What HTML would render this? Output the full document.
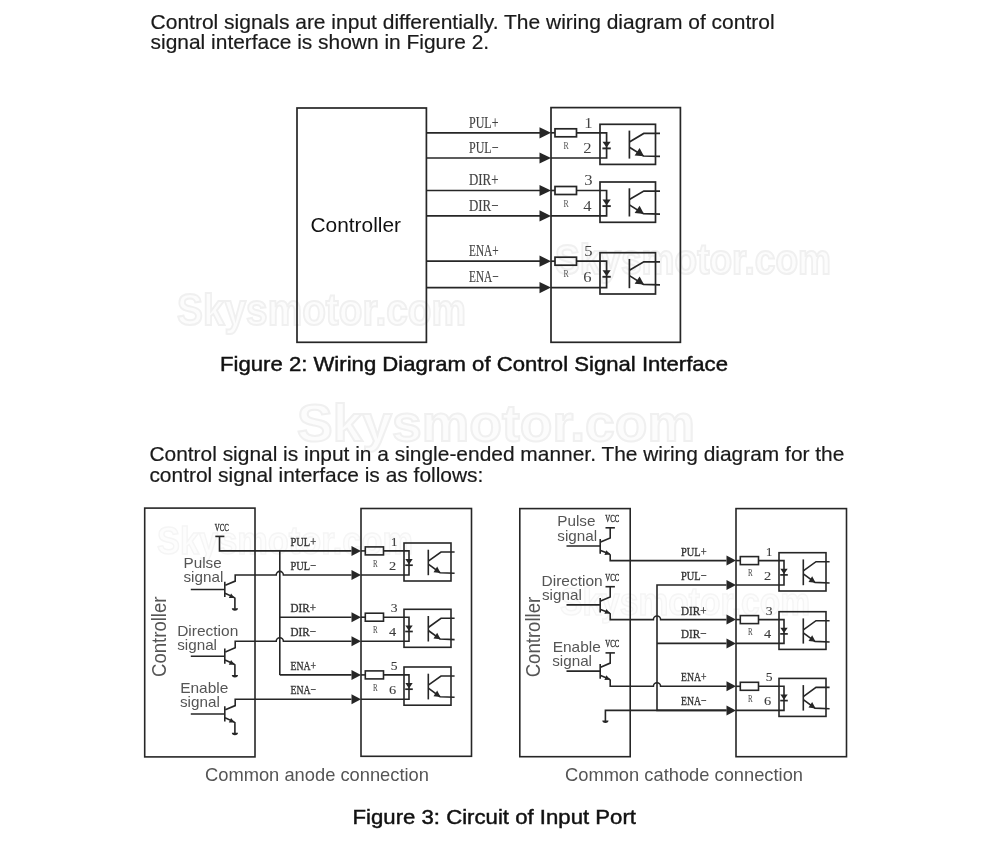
<!DOCTYPE html>
<html><head><meta charset="utf-8"><style>
html,body{margin:0;padding:0;background:#fff;}
svg{display:block;will-change:transform;}
</style></head><body>
<svg width="990" height="860" viewBox="0 0 990 860">
<rect x="0" y="0" width="990" height="860" fill="#fff"/>
<text x="297" y="441" font-size="52" textLength="398" lengthAdjust="spacingAndGlyphs" font-family="Liberation Sans" font-weight="bold" fill="#fcfcfc" stroke="#f0f0f0" stroke-width="2">Skysmotor.com</text>
<text x="177" y="324.5" font-size="44" textLength="289" lengthAdjust="spacingAndGlyphs" font-family="Liberation Sans" font-weight="bold" fill="#fcfcfc" stroke="#f0f0f0" stroke-width="2">Skysmotor.com</text>
<text x="555" y="274" font-size="42" textLength="276" lengthAdjust="spacingAndGlyphs" font-family="Liberation Sans" font-weight="bold" fill="#fcfcfc" stroke="#f0f0f0" stroke-width="2">Skysmotor.com</text>
<text x="157" y="554" font-size="38" textLength="256" lengthAdjust="spacingAndGlyphs" font-family="Liberation Sans" font-weight="bold" fill="#fdfdfd" stroke="#f5f5f5" stroke-width="1.5">Skysmotor.com</text>
<text x="560" y="615" font-size="38" textLength="250" lengthAdjust="spacingAndGlyphs" font-family="Liberation Sans" font-weight="bold" fill="#fdfdfd" stroke="#f5f5f5" stroke-width="1.5">Skysmotor.com</text>
<text x="150.6" y="28.7" font-family="Liberation Sans" font-size="21" fill="#1a1a1a" font-weight="normal" textLength="624.0" lengthAdjust="spacingAndGlyphs" stroke="#1a1a1a" stroke-width="0.2">Control signals are input differentially. The wiring diagram of control</text>
<text x="150.6" y="48.6" font-family="Liberation Sans" font-size="21" fill="#1a1a1a" font-weight="normal" textLength="338.5" lengthAdjust="spacingAndGlyphs" stroke="#1a1a1a" stroke-width="0.2">signal interface is shown in Figure 2.</text>
<text x="149.4" y="460.9" font-family="Liberation Sans" font-size="21" fill="#1a1a1a" font-weight="normal" textLength="695.0" lengthAdjust="spacingAndGlyphs" stroke="#1a1a1a" stroke-width="0.2">Control signal is input in a single-ended manner. The wiring diagram for the</text>
<text x="149.4" y="481.7" font-family="Liberation Sans" font-size="21" fill="#1a1a1a" font-weight="normal" textLength="334.0" lengthAdjust="spacingAndGlyphs" stroke="#1a1a1a" stroke-width="0.2">control signal interface is as follows:</text>
<text x="220.0" y="371.2" font-family="Liberation Sans" font-size="21" fill="#111" font-weight="normal" textLength="508.0" lengthAdjust="spacingAndGlyphs" stroke="#111" stroke-width="0.45">Figure 2: Wiring Diagram of Control Signal Interface</text>
<text x="352.5" y="824.0" font-family="Liberation Sans" font-size="21" fill="#111" font-weight="normal" textLength="283.5" lengthAdjust="spacingAndGlyphs" stroke="#111" stroke-width="0.45">Figure 3: Circuit of Input Port</text>
<text x="205.0" y="780.8" font-family="Liberation Sans" font-size="18.4" fill="#555" font-weight="normal" textLength="224.0" lengthAdjust="spacingAndGlyphs" >Common anode connection</text>
<text x="565.0" y="780.7" font-family="Liberation Sans" font-size="18.4" fill="#555" font-weight="normal" textLength="238.0" lengthAdjust="spacingAndGlyphs" >Common cathode connection</text>
<rect x="297.0" y="108.0" width="129.4" height="234.3" stroke="#262626" stroke-width="1.7" fill="none"/>
<rect x="551.0" y="107.6" width="129.4" height="234.7" stroke="#262626" stroke-width="1.7" fill="none"/>
<text x="310.5" y="231.8" font-family="Liberation Sans" font-size="20.5" fill="#111" font-weight="normal" textLength="90.5" lengthAdjust="spacingAndGlyphs" >Controller</text>
<line x1="426.4" y1="132.8" x2="541.0" y2="132.8" stroke="#262626" stroke-width="1.7"/>
<path d="M551.0,132.8 L539.5,127.2 L539.5,138.4 Z" fill="#262626"/>
<line x1="426.4" y1="158.0" x2="541.0" y2="158.0" stroke="#262626" stroke-width="1.7"/>
<path d="M551.0,158.0 L539.5,152.4 L539.5,163.6 Z" fill="#262626"/>
<text x="469.0" y="127.6" font-family="Liberation Serif" font-size="16.5" fill="#444" font-weight="normal" textLength="29.5" lengthAdjust="spacingAndGlyphs" stroke="#444" stroke-width="0.15">PUL+</text>
<text x="469.0" y="152.6" font-family="Liberation Serif" font-size="16.5" fill="#444" font-weight="normal" textLength="29.5" lengthAdjust="spacingAndGlyphs" stroke="#444" stroke-width="0.15">PUL&#8722;</text>
<rect x="555.0" y="128.8" width="21.5" height="8.0" stroke="#262626" stroke-width="1.7" fill="none"/>
<line x1="551.0" y1="132.8" x2="555.0" y2="132.8" stroke="#262626" stroke-width="1.7"/>
<path d="M576.5,132.8 L606.6,132.8 L606.6,158.0 L551,158.0" stroke="#262626" stroke-width="1.7" fill="none" />
<rect x="600.0" y="124.3" width="55.5" height="40.1" stroke="#262626" stroke-width="1.7" fill="none"/>
<path d="M602.5,141.8 L610.7,141.8 L606.6,147.6 Z" fill="#262626"/>
<line x1="602.4" y1="148.4" x2="610.8" y2="148.4" stroke="#262626" stroke-width="1.9"/>
<line x1="629.4" y1="130.6" x2="629.4" y2="158.6" stroke="#262626" stroke-width="1.7"/>
<path d="M629.4,141.9 L643.8,133.4 L660,133.4" stroke="#262626" stroke-width="1.7" fill="none" />
<path d="M629.4,147.2 L643.4,156.0 L660,156.4" stroke="#262626" stroke-width="1.7" fill="none" />
<path d="M644,156.2 L634.6,155.4 L639.6,148.0 Z" fill="#262626"/>
<text x="584.3" y="127.6" font-family="Liberation Serif" font-size="15.5" fill="#444" font-weight="normal" textLength="8.3" lengthAdjust="spacingAndGlyphs"  >1</text>
<text x="583.3" y="152.6" font-family="Liberation Serif" font-size="15.5" fill="#444" font-weight="normal" textLength="8.3" lengthAdjust="spacingAndGlyphs"  >2</text>
<text x="563.6" y="149.0" font-family="Liberation Serif" font-size="10" fill="#555" font-weight="normal" textLength="5.2" lengthAdjust="spacingAndGlyphs"  >R</text>
<line x1="426.4" y1="190.5" x2="541.0" y2="190.5" stroke="#262626" stroke-width="1.7"/>
<path d="M551.0,190.5 L539.5,184.9 L539.5,196.1 Z" fill="#262626"/>
<line x1="426.4" y1="215.9" x2="541.0" y2="215.9" stroke="#262626" stroke-width="1.7"/>
<path d="M551.0,215.9 L539.5,210.3 L539.5,221.5 Z" fill="#262626"/>
<text x="469.0" y="185.3" font-family="Liberation Serif" font-size="16.5" fill="#444" font-weight="normal" textLength="29.5" lengthAdjust="spacingAndGlyphs" stroke="#444" stroke-width="0.15">DIR+</text>
<text x="469.0" y="210.5" font-family="Liberation Serif" font-size="16.5" fill="#444" font-weight="normal" textLength="29.5" lengthAdjust="spacingAndGlyphs" stroke="#444" stroke-width="0.15">DIR&#8722;</text>
<rect x="555.0" y="186.5" width="21.5" height="8.0" stroke="#262626" stroke-width="1.7" fill="none"/>
<line x1="551.0" y1="190.5" x2="555.0" y2="190.5" stroke="#262626" stroke-width="1.7"/>
<path d="M576.5,190.5 L606.6,190.5 L606.6,215.9 L551,215.9" stroke="#262626" stroke-width="1.7" fill="none" />
<rect x="600.0" y="182.0" width="55.5" height="40.3" stroke="#262626" stroke-width="1.7" fill="none"/>
<path d="M602.5,199.5 L610.7,199.5 L606.6,205.3 Z" fill="#262626"/>
<line x1="602.4" y1="206.1" x2="610.8" y2="206.1" stroke="#262626" stroke-width="1.9"/>
<line x1="629.4" y1="188.3" x2="629.4" y2="216.5" stroke="#262626" stroke-width="1.7"/>
<path d="M629.4,199.6 L643.8,191.1 L660,191.1" stroke="#262626" stroke-width="1.7" fill="none" />
<path d="M629.4,204.9 L643.4,213.7 L660,214.1" stroke="#262626" stroke-width="1.7" fill="none" />
<path d="M644,213.9 L634.6,213.1 L639.6,205.7 Z" fill="#262626"/>
<text x="584.3" y="185.3" font-family="Liberation Serif" font-size="15.5" fill="#444" font-weight="normal" textLength="8.3" lengthAdjust="spacingAndGlyphs"  >3</text>
<text x="583.3" y="210.5" font-family="Liberation Serif" font-size="15.5" fill="#444" font-weight="normal" textLength="8.3" lengthAdjust="spacingAndGlyphs"  >4</text>
<text x="563.6" y="206.7" font-family="Liberation Serif" font-size="10" fill="#555" font-weight="normal" textLength="5.2" lengthAdjust="spacingAndGlyphs"  >R</text>
<line x1="426.4" y1="261.2" x2="541.0" y2="261.2" stroke="#262626" stroke-width="1.7"/>
<path d="M551.0,261.2 L539.5,255.6 L539.5,266.8 Z" fill="#262626"/>
<line x1="426.4" y1="287.6" x2="541.0" y2="287.6" stroke="#262626" stroke-width="1.7"/>
<path d="M551.0,287.6 L539.5,282.0 L539.5,293.2 Z" fill="#262626"/>
<text x="469.0" y="256.0" font-family="Liberation Serif" font-size="16.5" fill="#444" font-weight="normal" textLength="29.5" lengthAdjust="spacingAndGlyphs" stroke="#444" stroke-width="0.15">ENA+</text>
<text x="469.0" y="282.2" font-family="Liberation Serif" font-size="16.5" fill="#444" font-weight="normal" textLength="29.5" lengthAdjust="spacingAndGlyphs" stroke="#444" stroke-width="0.15">ENA&#8722;</text>
<rect x="555.0" y="257.2" width="21.5" height="8.0" stroke="#262626" stroke-width="1.7" fill="none"/>
<line x1="551.0" y1="261.2" x2="555.0" y2="261.2" stroke="#262626" stroke-width="1.7"/>
<path d="M576.5,261.2 L606.6,261.2 L606.6,287.6 L551,287.6" stroke="#262626" stroke-width="1.7" fill="none" />
<rect x="600.0" y="252.7" width="55.5" height="41.3" stroke="#262626" stroke-width="1.7" fill="none"/>
<path d="M602.5,270.2 L610.7,270.2 L606.6,276.0 Z" fill="#262626"/>
<line x1="602.4" y1="276.8" x2="610.8" y2="276.8" stroke="#262626" stroke-width="1.9"/>
<line x1="629.4" y1="259.0" x2="629.4" y2="288.2" stroke="#262626" stroke-width="1.7"/>
<path d="M629.4,270.3 L643.8,261.8 L660,261.8" stroke="#262626" stroke-width="1.7" fill="none" />
<path d="M629.4,275.6 L643.4,284.4 L660,284.8" stroke="#262626" stroke-width="1.7" fill="none" />
<path d="M644,284.6 L634.6,283.8 L639.6,276.4 Z" fill="#262626"/>
<text x="584.3" y="256.0" font-family="Liberation Serif" font-size="15.5" fill="#444" font-weight="normal" textLength="8.3" lengthAdjust="spacingAndGlyphs"  >5</text>
<text x="583.3" y="282.2" font-family="Liberation Serif" font-size="15.5" fill="#444" font-weight="normal" textLength="8.3" lengthAdjust="spacingAndGlyphs"  >6</text>
<text x="563.6" y="277.4" font-family="Liberation Serif" font-size="10" fill="#555" font-weight="normal" textLength="5.2" lengthAdjust="spacingAndGlyphs"  >R</text>
<rect x="144.7" y="508.1" width="110.3" height="248.8" stroke="#262626" stroke-width="1.6" fill="none"/>
<rect x="361.0" y="508.5" width="110.5" height="247.8" stroke="#262626" stroke-width="1.6" fill="none"/>
<text transform="translate(165.9,677) rotate(-90)" font-family="Liberation Sans" font-size="20" fill="#555" textLength="80.5" lengthAdjust="spacingAndGlyphs">Controller</text>
<path d="M361.0,550.9 L351.5,545.9 L351.5,555.9 Z" fill="#262626"/>
<path d="M361.0,575.0 L351.5,570.0 L351.5,580.0 Z" fill="#262626"/>
<text x="290.5" y="546.1" font-family="Liberation Serif" font-size="13.5" fill="#333" font-weight="normal" textLength="25.5" lengthAdjust="spacingAndGlyphs" stroke="#333" stroke-width="0.35">PUL+</text>
<text x="290.5" y="570.0" font-family="Liberation Serif" font-size="13.5" fill="#333" font-weight="normal" textLength="25.5" lengthAdjust="spacingAndGlyphs" stroke="#333" stroke-width="0.35">PUL&#8722;</text>
<rect x="365.3" y="546.9" width="18.2" height="8.0" stroke="#262626" stroke-width="1.6" fill="none"/>
<line x1="361.0" y1="550.9" x2="365.3" y2="550.9" stroke="#262626" stroke-width="1.6"/>
<path d="M383.5,550.9 L409.0,550.9 L409.0,575.0 L361.0,575.0" stroke="#262626" stroke-width="1.6" fill="none" />
<rect x="404.0" y="543.0" width="47.0" height="38.0" stroke="#262626" stroke-width="1.6" fill="none"/>
<path d="M405.3,559.1 L412.7,559.1 L409.0,564.4 Z" fill="#262626"/>
<line x1="405.2" y1="565.2" x2="412.8" y2="565.2" stroke="#262626" stroke-width="1.7"/>
<line x1="428.3" y1="549.7" x2="428.3" y2="575.2" stroke="#262626" stroke-width="1.6"/>
<path d="M428.3,561.2 L441.0,552.0 L454.6,552.0" stroke="#262626" stroke-width="1.6" fill="none" />
<path d="M428.3,564.2 L440.0,572.7 L454.6,573.3" stroke="#262626" stroke-width="1.6" fill="none" />
<path d="M440.5,573.0 L433.5,572.2 L437.2,566.5 Z" fill="#262626"/>
<text x="390.8" y="546.0" font-family="Liberation Serif" font-size="13.5" fill="#3a3a3a" font-weight="normal" textLength="6.8" lengthAdjust="spacingAndGlyphs" stroke="#3a3a3a" stroke-width="0.1">1</text>
<text x="389.0" y="570.0" font-family="Liberation Serif" font-size="13.5" fill="#3a3a3a" font-weight="normal" textLength="7.2" lengthAdjust="spacingAndGlyphs" stroke="#3a3a3a" stroke-width="0.1">2</text>
<text x="372.9" y="566.7" font-family="Liberation Serif" font-size="9.5" fill="#444" font-weight="normal" textLength="4.6" lengthAdjust="spacingAndGlyphs"  >R</text>
<path d="M361.0,617.2 L351.5,612.2 L351.5,622.2 Z" fill="#262626"/>
<path d="M361.0,641.3 L351.5,636.3 L351.5,646.3 Z" fill="#262626"/>
<text x="290.5" y="612.4" font-family="Liberation Serif" font-size="13.5" fill="#333" font-weight="normal" textLength="25.5" lengthAdjust="spacingAndGlyphs" stroke="#333" stroke-width="0.35">DIR+</text>
<text x="290.5" y="636.3" font-family="Liberation Serif" font-size="13.5" fill="#333" font-weight="normal" textLength="25.5" lengthAdjust="spacingAndGlyphs" stroke="#333" stroke-width="0.35">DIR&#8722;</text>
<rect x="365.3" y="613.2" width="18.2" height="8.0" stroke="#262626" stroke-width="1.6" fill="none"/>
<line x1="361.0" y1="617.2" x2="365.3" y2="617.2" stroke="#262626" stroke-width="1.6"/>
<path d="M383.5,617.2 L409.0,617.2 L409.0,641.3 L361.0,641.3" stroke="#262626" stroke-width="1.6" fill="none" />
<rect x="404.0" y="609.3" width="47.0" height="38.0" stroke="#262626" stroke-width="1.6" fill="none"/>
<path d="M405.3,625.4 L412.7,625.4 L409.0,630.7 Z" fill="#262626"/>
<line x1="405.2" y1="631.5" x2="412.8" y2="631.5" stroke="#262626" stroke-width="1.7"/>
<line x1="428.3" y1="616.0" x2="428.3" y2="641.5" stroke="#262626" stroke-width="1.6"/>
<path d="M428.3,627.5 L441.0,618.3 L454.6,618.3" stroke="#262626" stroke-width="1.6" fill="none" />
<path d="M428.3,630.5 L440.0,639.0 L454.6,639.6" stroke="#262626" stroke-width="1.6" fill="none" />
<path d="M440.5,639.3 L433.5,638.5 L437.2,632.8 Z" fill="#262626"/>
<text x="390.8" y="612.3" font-family="Liberation Serif" font-size="13.5" fill="#3a3a3a" font-weight="normal" textLength="6.8" lengthAdjust="spacingAndGlyphs" stroke="#3a3a3a" stroke-width="0.1">3</text>
<text x="389.0" y="636.3" font-family="Liberation Serif" font-size="13.5" fill="#3a3a3a" font-weight="normal" textLength="7.2" lengthAdjust="spacingAndGlyphs" stroke="#3a3a3a" stroke-width="0.1">4</text>
<text x="372.9" y="633.0" font-family="Liberation Serif" font-size="9.5" fill="#444" font-weight="normal" textLength="4.6" lengthAdjust="spacingAndGlyphs"  >R</text>
<path d="M361.0,674.9 L351.5,669.9 L351.5,679.9 Z" fill="#262626"/>
<path d="M361.0,699.2 L351.5,694.2 L351.5,704.2 Z" fill="#262626"/>
<text x="290.5" y="670.1" font-family="Liberation Serif" font-size="13.5" fill="#333" font-weight="normal" textLength="25.5" lengthAdjust="spacingAndGlyphs" stroke="#333" stroke-width="0.35">ENA+</text>
<text x="290.5" y="694.2" font-family="Liberation Serif" font-size="13.5" fill="#333" font-weight="normal" textLength="25.5" lengthAdjust="spacingAndGlyphs" stroke="#333" stroke-width="0.35">ENA&#8722;</text>
<rect x="365.3" y="670.9" width="18.2" height="8.0" stroke="#262626" stroke-width="1.6" fill="none"/>
<line x1="361.0" y1="674.9" x2="365.3" y2="674.9" stroke="#262626" stroke-width="1.6"/>
<path d="M383.5,674.9 L409.0,674.9 L409.0,699.2 L361.0,699.2" stroke="#262626" stroke-width="1.6" fill="none" />
<rect x="404.0" y="667.0" width="47.0" height="38.2" stroke="#262626" stroke-width="1.6" fill="none"/>
<path d="M405.3,683.1 L412.7,683.1 L409.0,688.4 Z" fill="#262626"/>
<line x1="405.2" y1="689.2" x2="412.8" y2="689.2" stroke="#262626" stroke-width="1.7"/>
<line x1="428.3" y1="673.7" x2="428.3" y2="699.4" stroke="#262626" stroke-width="1.6"/>
<path d="M428.3,685.2 L441.0,676.0 L454.6,676.0" stroke="#262626" stroke-width="1.6" fill="none" />
<path d="M428.3,688.2 L440.0,696.7 L454.6,697.3" stroke="#262626" stroke-width="1.6" fill="none" />
<path d="M440.5,697.0 L433.5,696.2 L437.2,690.5 Z" fill="#262626"/>
<text x="390.8" y="670.0" font-family="Liberation Serif" font-size="13.5" fill="#3a3a3a" font-weight="normal" textLength="6.8" lengthAdjust="spacingAndGlyphs" stroke="#3a3a3a" stroke-width="0.1">5</text>
<text x="389.0" y="694.2" font-family="Liberation Serif" font-size="13.5" fill="#3a3a3a" font-weight="normal" textLength="7.2" lengthAdjust="spacingAndGlyphs" stroke="#3a3a3a" stroke-width="0.1">6</text>
<text x="372.9" y="690.7" font-family="Liberation Serif" font-size="9.5" fill="#444" font-weight="normal" textLength="4.6" lengthAdjust="spacingAndGlyphs"  >R</text>
<text x="214.8" y="530.8" font-family="Liberation Serif" font-size="10" fill="#333" font-weight="normal" textLength="14.0" lengthAdjust="spacingAndGlyphs" stroke="#333" stroke-width="0.35">VCC</text>
<line x1="215.3" y1="536.4" x2="224.4" y2="536.4" stroke="#262626" stroke-width="1.6"/>
<path d="M219.5,536.4 L219.5,550.9 L351.5,550.9" stroke="#262626" stroke-width="1.6" fill="none" />
<line x1="279.8" y1="550.9" x2="279.8" y2="674.9" stroke="#262626" stroke-width="1.6"/>
<line x1="279.8" y1="617.2" x2="351.5" y2="617.2" stroke="#262626" stroke-width="1.6"/>
<line x1="279.8" y1="674.9" x2="351.5" y2="674.9" stroke="#262626" stroke-width="1.6"/>
<line x1="190.8" y1="589.5" x2="224.8" y2="589.5" stroke="#262626" stroke-width="1.6"/>
<line x1="224.8" y1="581.8" x2="224.8" y2="597.1" stroke="#262626" stroke-width="1.6"/>
<path d="M225.3,585.3 L235.2,581.1 L235.2,575.0 L276.2,575.0 A3.6,3.6 0 0 1 283.4,575.0 L351.5,575.0" stroke="#262626" stroke-width="1.6" fill="none" />
<path d="M225,593.3 L233.5,597.1 L234.9,598.2 L234.9,608.7" stroke="#262626" stroke-width="1.6" fill="none" />
<path d="M234.6,598.1 L228.8,598.1 L231.1,593.4 Z" fill="#262626"/>
<path d="M231.8,608.3 L238,608.3 A3.1,2.4 0 0 1 231.8,608.3 Z" fill="#262626"/>
<line x1="190.8" y1="656.2" x2="224.8" y2="656.2" stroke="#262626" stroke-width="1.6"/>
<line x1="224.8" y1="648.5" x2="224.8" y2="663.8" stroke="#262626" stroke-width="1.6"/>
<path d="M225.3,652.0 L235.2,647.8 L235.2,641.3 L276.2,641.3 A3.6,3.6 0 0 1 283.4,641.3 L351.5,641.3" stroke="#262626" stroke-width="1.6" fill="none" />
<path d="M225,660.0 L233.5,663.8 L234.9,664.9 L234.9,675.4" stroke="#262626" stroke-width="1.6" fill="none" />
<path d="M234.6,664.8 L228.8,664.8 L231.1,660.1 Z" fill="#262626"/>
<path d="M231.8,675.0 L238,675.0 A3.1,2.4 0 0 1 231.8,675.0 Z" fill="#262626"/>
<line x1="190.8" y1="714.0" x2="224.8" y2="714.0" stroke="#262626" stroke-width="1.6"/>
<line x1="224.8" y1="706.3" x2="224.8" y2="721.6" stroke="#262626" stroke-width="1.6"/>
<path d="M225.3,709.8 L235.2,705.6 L235.2,699.2 L351.5,699.2" stroke="#262626" stroke-width="1.6" fill="none" />
<path d="M225,717.8 L233.5,721.6 L234.9,722.7 L234.9,733.2" stroke="#262626" stroke-width="1.6" fill="none" />
<path d="M234.6,722.6 L228.8,722.6 L231.1,717.9 Z" fill="#262626"/>
<path d="M231.8,732.8 L238,732.8 A3.1,2.4 0 0 1 231.8,732.8 Z" fill="#262626"/>
<text x="183.5" y="567.6" font-family="Liberation Sans" font-size="14.3" fill="#555" font-weight="normal" textLength="38.2" lengthAdjust="spacingAndGlyphs" >Pulse</text>
<text x="183.5" y="581.6" font-family="Liberation Sans" font-size="14.3" fill="#555" font-weight="normal" textLength="39.8" lengthAdjust="spacingAndGlyphs" >signal</text>
<text x="177.2" y="635.7" font-family="Liberation Sans" font-size="14.3" fill="#555" font-weight="normal" textLength="61.1" lengthAdjust="spacingAndGlyphs" >Direction</text>
<text x="177.2" y="650.0" font-family="Liberation Sans" font-size="14.3" fill="#555" font-weight="normal" textLength="39.8" lengthAdjust="spacingAndGlyphs" >signal</text>
<text x="180.2" y="693.2" font-family="Liberation Sans" font-size="14.3" fill="#555" font-weight="normal" textLength="48.2" lengthAdjust="spacingAndGlyphs" >Enable</text>
<text x="180.0" y="707.3" font-family="Liberation Sans" font-size="14.3" fill="#555" font-weight="normal" textLength="39.8" lengthAdjust="spacingAndGlyphs" >signal</text>
<rect x="519.8" y="508.6" width="110.4" height="248.1" stroke="#262626" stroke-width="1.6" fill="none"/>
<rect x="736.0" y="508.6" width="110.5" height="248.1" stroke="#262626" stroke-width="1.6" fill="none"/>
<text transform="translate(540.4,677.3) rotate(-90)" font-family="Liberation Sans" font-size="20" fill="#555" textLength="80.5" lengthAdjust="spacingAndGlyphs">Controller</text>
<path d="M736.0,560.6 L726.5,555.6 L726.5,565.6 Z" fill="#262626"/>
<path d="M736.0,585.0 L726.5,580.0 L726.5,590.0 Z" fill="#262626"/>
<text x="681.0" y="555.7" font-family="Liberation Serif" font-size="13.5" fill="#333" font-weight="normal" textLength="25.5" lengthAdjust="spacingAndGlyphs" stroke="#333" stroke-width="0.35">PUL+</text>
<text x="681.0" y="580.0" font-family="Liberation Serif" font-size="13.5" fill="#333" font-weight="normal" textLength="25.5" lengthAdjust="spacingAndGlyphs" stroke="#333" stroke-width="0.35">PUL&#8722;</text>
<rect x="740.3" y="556.6" width="18.2" height="8.0" stroke="#262626" stroke-width="1.6" fill="none"/>
<line x1="736.0" y1="560.6" x2="740.3" y2="560.6" stroke="#262626" stroke-width="1.6"/>
<path d="M758.5,560.6 L784.0,560.6 L784.0,585.0 L736.0,585.0" stroke="#262626" stroke-width="1.6" fill="none" />
<rect x="779.0" y="552.7" width="47.0" height="38.3" stroke="#262626" stroke-width="1.6" fill="none"/>
<path d="M780.3,568.8 L787.7,568.8 L784.0,574.1 Z" fill="#262626"/>
<line x1="780.2" y1="574.9" x2="787.8" y2="574.9" stroke="#262626" stroke-width="1.7"/>
<line x1="803.3" y1="559.4" x2="803.3" y2="585.2" stroke="#262626" stroke-width="1.6"/>
<path d="M803.3,570.9 L816.0,561.7 L829.6,561.7" stroke="#262626" stroke-width="1.6" fill="none" />
<path d="M803.3,573.9 L815.0,582.4 L829.6,583.0" stroke="#262626" stroke-width="1.6" fill="none" />
<path d="M815.5,582.7 L808.5,581.9 L812.2,576.2 Z" fill="#262626"/>
<text x="765.8" y="555.7" font-family="Liberation Serif" font-size="13.5" fill="#3a3a3a" font-weight="normal" textLength="6.8" lengthAdjust="spacingAndGlyphs" stroke="#3a3a3a" stroke-width="0.1">1</text>
<text x="764.0" y="580.0" font-family="Liberation Serif" font-size="13.5" fill="#3a3a3a" font-weight="normal" textLength="7.2" lengthAdjust="spacingAndGlyphs" stroke="#3a3a3a" stroke-width="0.1">2</text>
<text x="747.9" y="576.4" font-family="Liberation Serif" font-size="9.5" fill="#444" font-weight="normal" textLength="4.6" lengthAdjust="spacingAndGlyphs"  >R</text>
<path d="M736.0,619.6 L726.5,614.6 L726.5,624.6 Z" fill="#262626"/>
<path d="M736.0,643.4 L726.5,638.4 L726.5,648.4 Z" fill="#262626"/>
<text x="681.0" y="614.7" font-family="Liberation Serif" font-size="13.5" fill="#333" font-weight="normal" textLength="25.5" lengthAdjust="spacingAndGlyphs" stroke="#333" stroke-width="0.35">DIR+</text>
<text x="681.0" y="638.4" font-family="Liberation Serif" font-size="13.5" fill="#333" font-weight="normal" textLength="25.5" lengthAdjust="spacingAndGlyphs" stroke="#333" stroke-width="0.35">DIR&#8722;</text>
<rect x="740.3" y="615.6" width="18.2" height="8.0" stroke="#262626" stroke-width="1.6" fill="none"/>
<line x1="736.0" y1="619.6" x2="740.3" y2="619.6" stroke="#262626" stroke-width="1.6"/>
<path d="M758.5,619.6 L784.0,619.6 L784.0,643.4 L736.0,643.4" stroke="#262626" stroke-width="1.6" fill="none" />
<rect x="779.0" y="611.7" width="47.0" height="37.7" stroke="#262626" stroke-width="1.6" fill="none"/>
<path d="M780.3,627.8 L787.7,627.8 L784.0,633.1 Z" fill="#262626"/>
<line x1="780.2" y1="633.9" x2="787.8" y2="633.9" stroke="#262626" stroke-width="1.7"/>
<line x1="803.3" y1="618.4" x2="803.3" y2="643.6" stroke="#262626" stroke-width="1.6"/>
<path d="M803.3,629.9 L816.0,620.7 L829.6,620.7" stroke="#262626" stroke-width="1.6" fill="none" />
<path d="M803.3,632.9 L815.0,641.4 L829.6,642.0" stroke="#262626" stroke-width="1.6" fill="none" />
<path d="M815.5,641.7 L808.5,640.9 L812.2,635.2 Z" fill="#262626"/>
<text x="765.8" y="614.7" font-family="Liberation Serif" font-size="13.5" fill="#3a3a3a" font-weight="normal" textLength="6.8" lengthAdjust="spacingAndGlyphs" stroke="#3a3a3a" stroke-width="0.1">3</text>
<text x="764.0" y="638.4" font-family="Liberation Serif" font-size="13.5" fill="#3a3a3a" font-weight="normal" textLength="7.2" lengthAdjust="spacingAndGlyphs" stroke="#3a3a3a" stroke-width="0.1">4</text>
<text x="747.9" y="635.4" font-family="Liberation Serif" font-size="9.5" fill="#444" font-weight="normal" textLength="4.6" lengthAdjust="spacingAndGlyphs"  >R</text>
<path d="M736.0,686.3 L726.5,681.3 L726.5,691.3 Z" fill="#262626"/>
<path d="M736.0,710.4 L726.5,705.4 L726.5,715.4 Z" fill="#262626"/>
<text x="681.0" y="681.4" font-family="Liberation Serif" font-size="13.5" fill="#333" font-weight="normal" textLength="25.5" lengthAdjust="spacingAndGlyphs" stroke="#333" stroke-width="0.35">ENA+</text>
<text x="681.0" y="705.4" font-family="Liberation Serif" font-size="13.5" fill="#333" font-weight="normal" textLength="25.5" lengthAdjust="spacingAndGlyphs" stroke="#333" stroke-width="0.35">ENA&#8722;</text>
<rect x="740.3" y="682.3" width="18.2" height="8.0" stroke="#262626" stroke-width="1.6" fill="none"/>
<line x1="736.0" y1="686.3" x2="740.3" y2="686.3" stroke="#262626" stroke-width="1.6"/>
<path d="M758.5,686.3 L784.0,686.3 L784.0,710.4 L736.0,710.4" stroke="#262626" stroke-width="1.6" fill="none" />
<rect x="779.0" y="678.4" width="47.0" height="38.0" stroke="#262626" stroke-width="1.6" fill="none"/>
<path d="M780.3,694.5 L787.7,694.5 L784.0,699.8 Z" fill="#262626"/>
<line x1="780.2" y1="700.6" x2="787.8" y2="700.6" stroke="#262626" stroke-width="1.7"/>
<line x1="803.3" y1="685.1" x2="803.3" y2="710.6" stroke="#262626" stroke-width="1.6"/>
<path d="M803.3,696.6 L816.0,687.4 L829.6,687.4" stroke="#262626" stroke-width="1.6" fill="none" />
<path d="M803.3,699.6 L815.0,708.1 L829.6,708.7" stroke="#262626" stroke-width="1.6" fill="none" />
<path d="M815.5,708.4 L808.5,707.6 L812.2,701.9 Z" fill="#262626"/>
<text x="765.8" y="681.4" font-family="Liberation Serif" font-size="13.5" fill="#3a3a3a" font-weight="normal" textLength="6.8" lengthAdjust="spacingAndGlyphs" stroke="#3a3a3a" stroke-width="0.1">5</text>
<text x="764.0" y="705.4" font-family="Liberation Serif" font-size="13.5" fill="#3a3a3a" font-weight="normal" textLength="7.2" lengthAdjust="spacingAndGlyphs" stroke="#3a3a3a" stroke-width="0.1">6</text>
<text x="747.9" y="702.1" font-family="Liberation Serif" font-size="9.5" fill="#444" font-weight="normal" textLength="4.6" lengthAdjust="spacingAndGlyphs"  >R</text>
<text x="605.3" y="521.7" font-family="Liberation Serif" font-size="10" fill="#333" font-weight="normal" textLength="14.0" lengthAdjust="spacingAndGlyphs" stroke="#333" stroke-width="0.35">VCC</text>
<line x1="605.5" y1="527.8" x2="614.9" y2="527.8" stroke="#262626" stroke-width="1.6"/>
<path d="M610.2,527.8 L610.2,538.0 L600.6,542.1" stroke="#262626" stroke-width="1.6" fill="none" />
<line x1="600.2" y1="539.0" x2="600.2" y2="553.7" stroke="#262626" stroke-width="1.6"/>
<line x1="566.5" y1="546.0" x2="600.2" y2="546.0" stroke="#262626" stroke-width="1.6"/>
<path d="M600.6,550.5 L609,553.8 L610.2,555.0 L610.2,560.6 L726.5,560.6" stroke="#262626" stroke-width="1.6" fill="none" />
<path d="M610.2,554.6 L604.4,554.9 L606.4,550.2 Z" fill="#262626"/>
<text x="605.3" y="580.6" font-family="Liberation Serif" font-size="10" fill="#333" font-weight="normal" textLength="14.0" lengthAdjust="spacingAndGlyphs" stroke="#333" stroke-width="0.35">VCC</text>
<line x1="605.5" y1="586.7" x2="614.9" y2="586.7" stroke="#262626" stroke-width="1.6"/>
<path d="M610.2,586.7 L610.2,596.9 L600.6,601.0" stroke="#262626" stroke-width="1.6" fill="none" />
<line x1="600.2" y1="597.9" x2="600.2" y2="612.6" stroke="#262626" stroke-width="1.6"/>
<line x1="566.5" y1="604.9" x2="600.2" y2="604.9" stroke="#262626" stroke-width="1.6"/>
<path d="M600.6,609.4 L609,612.7 L610.2,613.9 L610.2,619.6 L653.4,619.6 A3.6,3.6 0 0 1 660.6,619.6 L726.5,619.6" stroke="#262626" stroke-width="1.6" fill="none" />
<path d="M610.2,613.5 L604.4,613.8 L606.4,609.1 Z" fill="#262626"/>
<text x="605.3" y="646.8" font-family="Liberation Serif" font-size="10" fill="#333" font-weight="normal" textLength="14.0" lengthAdjust="spacingAndGlyphs" stroke="#333" stroke-width="0.35">VCC</text>
<line x1="605.5" y1="652.9" x2="614.9" y2="652.9" stroke="#262626" stroke-width="1.6"/>
<path d="M610.2,652.9 L610.2,663.1 L600.6,667.2" stroke="#262626" stroke-width="1.6" fill="none" />
<line x1="600.2" y1="664.1" x2="600.2" y2="678.8" stroke="#262626" stroke-width="1.6"/>
<line x1="566.5" y1="671.1" x2="600.2" y2="671.1" stroke="#262626" stroke-width="1.6"/>
<path d="M600.6,675.6 L609,678.9 L610.2,680.1 L610.2,686.3 L653.4,686.3 A3.6,3.6 0 0 1 660.6,686.3 L726.5,686.3" stroke="#262626" stroke-width="1.6" fill="none" />
<path d="M610.2,679.7 L604.4,680.0 L606.4,675.3 Z" fill="#262626"/>
<text x="557.3" y="526.2" font-family="Liberation Sans" font-size="14.3" fill="#555" font-weight="normal" textLength="38.2" lengthAdjust="spacingAndGlyphs" >Pulse</text>
<text x="557.3" y="540.5" font-family="Liberation Sans" font-size="14.3" fill="#555" font-weight="normal" textLength="39.8" lengthAdjust="spacingAndGlyphs" >signal</text>
<text x="541.6" y="585.8" font-family="Liberation Sans" font-size="14.3" fill="#555" font-weight="normal" textLength="61.1" lengthAdjust="spacingAndGlyphs" >Direction</text>
<text x="542.0" y="600.4" font-family="Liberation Sans" font-size="14.3" fill="#555" font-weight="normal" textLength="39.8" lengthAdjust="spacingAndGlyphs" >signal</text>
<text x="552.7" y="652.4" font-family="Liberation Sans" font-size="14.3" fill="#555" font-weight="normal" textLength="48.2" lengthAdjust="spacingAndGlyphs" >Enable</text>
<text x="552.2" y="666.2" font-family="Liberation Sans" font-size="14.3" fill="#555" font-weight="normal" textLength="39.8" lengthAdjust="spacingAndGlyphs" >signal</text>
<path d="M726.5,585.0 L657,585.0 L657,710.4 L726.5,710.4" stroke="#262626" stroke-width="1.6" fill="none" />
<line x1="657.0" y1="643.4" x2="726.5" y2="643.4" stroke="#262626" stroke-width="1.6"/>
<path d="M726.5,710.4 L605.4,710.4 L605.4,721" stroke="#262626" stroke-width="1.6" fill="none" />
<path d="M602.3,720.6 L608.5,720.6 A3.1,2.4 0 0 1 602.3,720.6 Z" fill="#262626"/>
</svg></body></html>
